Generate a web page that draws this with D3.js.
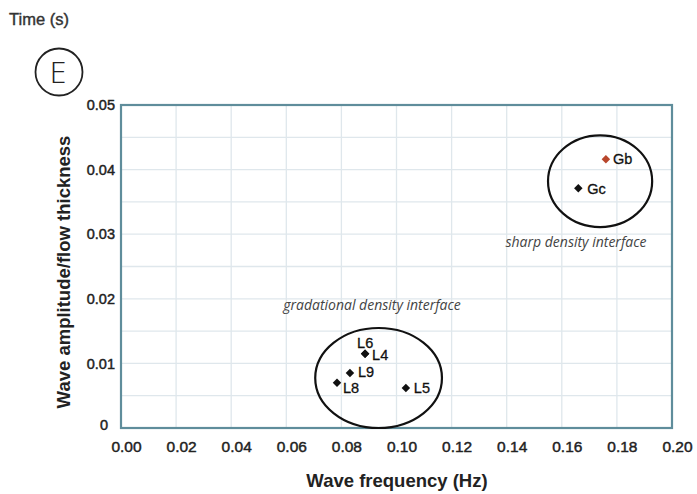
<!DOCTYPE html>
<html><head><meta charset="utf-8">
<script src="https://cdn.jsdelivr.net/npm/d3@7"></script>
<style>body{margin:0;background:#fff}svg{display:block}</style>
</head><body>
<script>
const names = ["Gb","Gc","L6","L4","L9","L8","L5"];
const freq = [0.176,0.166,0.0886,0.0886,0.0831,0.0784,0.1034];
const amp = [0.0416,0.0371,0.0115,0.0115,0.0085,0.0070,0.0062];
const colors = ["#b8462c","#111","#111","#111","#111","#111","#111"];
const xTicks = [0,0.02,0.04,0.06,0.08,0.10,0.12,0.14,0.16,0.18,0.20];
const yTicks = [0,0.01,0.02,0.03,0.04,0.05];
const yGrid = [0.005,0.01,0.015,0.02,0.025,0.03,0.035,0.04,0.045];
const groupNames = ["gradational density interface","sharp density interface"];
const groupCx = [0.0935,0.1739];
const groupCy = [0.00774,0.0382];
const groupRx = [0.0230,0.0189];
const groupRy = [0.00774,0.0071];

const W=697,H=494;
const FONT="Liberation Sans, Arial, sans-serif";
const svg=d3.select("body").append("svg").attr("width",W).attr("height",H);
const x=d3.scaleLinear().domain([0,0.2]).range([121,672]);
const y=d3.scaleLinear().domain([0,0.05]).range([428,105]);

// grid
svg.append("g").selectAll("line").data(xTicks.slice(1,-1)).join("line")
  .attr("x1",d=>x(d)).attr("x2",d=>x(d)).attr("y1",y(0)).attr("y2",y(0.05))
  .attr("stroke","#dfe7ec").attr("stroke-width",1.3);
svg.append("g").selectAll("line").data(yGrid).join("line")
  .attr("y1",d=>y(d)).attr("y2",d=>y(d)).attr("x1",x(0)).attr("x2",x(0.2))
  .attr("stroke","#dfe7ec").attr("stroke-width",1.3);
// border
svg.append("rect").attr("x",x(0)).attr("y",y(0.05)).attr("width",x(0.2)-x(0)).attr("height",y(0)-y(0.05))
  .attr("fill","none").attr("stroke","#5f8d9b").attr("stroke-width",2.2);

// axes
const xAxis=d3.axisBottom(x).tickValues(xTicks).tickFormat(d3.format(".2f")).tickSize(0).tickPadding(0);
const gx=svg.append("g").attr("transform",`translate(5,${y(0)})`).call(xAxis);
gx.select(".domain").remove();
gx.selectAll("text").attr("dy",null).attr("y",24).attr("font-family",FONT).attr("font-size",15.5).attr("fill","#222")
  .attr("stroke","#222").attr("stroke-width",0.45);
const yAxis=d3.axisLeft(y).tickValues(yTicks).tickFormat(d=>d===0?"0":d3.format(".2f")(d)).tickSize(0).tickPadding(6);
const gy=svg.append("g").attr("transform",`translate(${x(0)},0)`).call(yAxis);
gy.select(".domain").remove();
gy.selectAll("text").attr("font-family",FONT).attr("font-size",14.5).attr("fill","#222")
  .attr("stroke","#222").attr("stroke-width",0.45);
gy.selectAll(".tick").filter(d=>d===0).select("text").attr("x",-13).attr("dy","0.1em");

// axis titles
svg.append("text").attr("x",397).attr("y",487).attr("text-anchor","middle")
  .attr("font-family",FONT).attr("font-weight","bold").attr("font-size",18.5).attr("fill","#222")
  .text("Wave frequency (Hz)");
svg.append("text").attr("transform","translate(70,272) rotate(-90)").attr("text-anchor","middle")
  .attr("font-family",FONT).attr("font-weight","bold").attr("font-size",18.5).attr("fill","#222")
  .text("Wave amplitude/flow thickness");

// top-left
svg.append("text").attr("x",9).attr("y",25).attr("font-family",FONT).attr("font-size",16.5).attr("fill","#333")
  .attr("stroke","#333").attr("stroke-width",0.4).text("Time (s)");
svg.append("circle").attr("cx",59).attr("cy",72).attr("r",23.5).attr("fill","none").attr("stroke","#222").attr("stroke-width",1.8);
svg.append("text").attr("x",58).attr("y",82.5).attr("text-anchor","middle").attr("font-family","Open Sans, sans-serif").attr("font-weight",300).attr("font-size",30).attr("fill","#222").text("E");

// ellipses
svg.append("g").selectAll("ellipse").data(groupNames).join("ellipse")
  .attr("cx",(d,i)=>x(groupCx[i])).attr("cy",(d,i)=>y(groupCy[i]))
  .attr("rx",(d,i)=>x(groupRx[i])-x(0)).attr("ry",(d,i)=>y(0)-y(groupRy[i]))
  .attr("fill","none").attr("stroke","#111").attr("stroke-width",2.2);
const labPos=[[372,310],[576,247]];
svg.append("g").selectAll("text").data(groupNames).join("text")
  .attr("x",(d,i)=>labPos[i][0]).attr("y",(d,i)=>labPos[i][1]).attr("text-anchor","middle")
  .attr("font-family","Open Sans, sans-serif").attr("font-style","italic").attr("font-size",14).attr("fill","#444")
  .text(d=>d);

// points
const sym=d3.symbol().type(d3.symbolSquare).size(36);
const idx=d3.range(names.length);
svg.append("g").selectAll("path").data(idx).join("path")
  .attr("transform",i=>`translate(${x(freq[i])},${y(amp[i])}) rotate(45)`).attr("d",sym).attr("fill",i=>colors[i]);
const off={Gb:[7,4.5],Gc:[9,6],L6:[-8,-6],L4:[7,6],L9:[8,4],L8:[6,10],L5:[8,5]};
svg.append("g").selectAll("text").data(idx).join("text")
  .attr("x",i=>x(freq[i])+off[names[i]][0]).attr("y",i=>y(amp[i])+off[names[i]][1])
  .attr("font-family",FONT).attr("font-size",14.5).attr("fill","#111")
  .attr("stroke","#111").attr("stroke-width",0.3)
  .text(i=>names[i]);
</script>
</body></html>
